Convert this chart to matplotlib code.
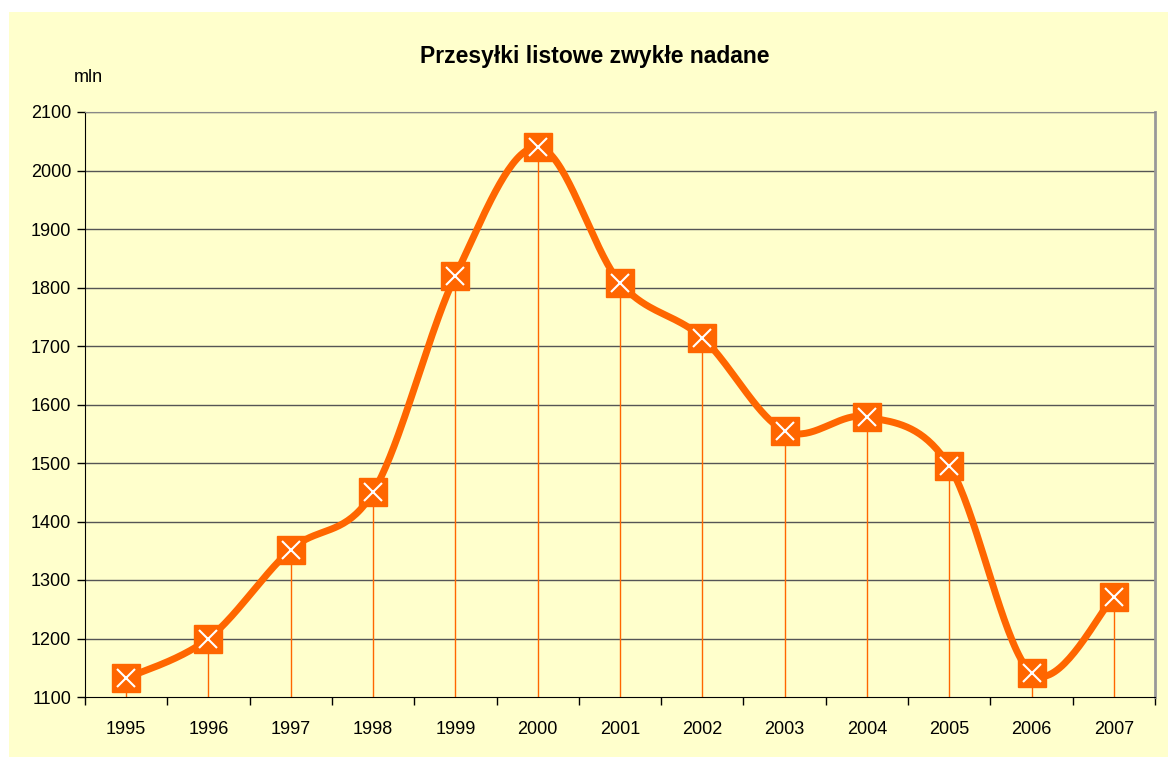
import matplotlib.pyplot as plt
import numpy as np
from matplotlib.patches import Rectangle

YEARS = ["1995", "1996", "1997", "1998", "1999", "2000", "2001",
         "2002", "2003", "2004", "2005", "2006", "2007"]
VALUES = [1132, 1200, 1352, 1450, 1820, 2040, 1808,
          1714, 1555, 1579, 1495, 1141, 1271]
Y_TICKS = list(range(1100, 2101, 100))

ORANGE = "#FF6600"
BG = "#FFFFCC"

plt.rcParams["font.family"] = ["Liberation Sans", "DejaVu Sans"]


def smooth(xs, ys, n=40):
    """Excel-like smoothed line: Catmull-Rom converted to cubic Bezier."""
    xs = np.asarray(xs, float)
    ys = np.asarray(ys, float)
    px = np.concatenate([[xs[0]], xs, [xs[-1]]])
    py = np.concatenate([[ys[0]], ys, [ys[-1]]])
    out_x, out_y = [], []
    t = np.linspace(0, 1, n)
    for i in range(1, len(px) - 2):
        p0 = np.array([px[i], py[i]])
        p3 = np.array([px[i + 1], py[i + 1]])
        c1 = p0 + (np.array([px[i + 1], py[i + 1]]) - np.array([px[i - 1], py[i - 1]])) / 6
        c2 = p3 - (np.array([px[i + 2], py[i + 2]]) - np.array([px[i], py[i]])) / 6
        b = ((1 - t) ** 3)[:, None] * p0 + (3 * (1 - t) ** 2 * t)[:, None] * c1 \
            + (3 * (1 - t) * t ** 2)[:, None] * c2 + (t ** 3)[:, None] * p3
        out_x.extend(b[:, 0])
        out_y.extend(b[:, 1])
    return out_x, out_y


fig = plt.figure(figsize=(11.68, 7.57), dpi=100)
fig.patch.set_facecolor(BG)
# white margin strips at top and left, like the pasted Excel chart
fig.add_artist(Rectangle((0, 1 - 12 / 757), 1, 12 / 757, transform=fig.transFigure,
                         facecolor="white", edgecolor="none", zorder=-10))
fig.add_artist(Rectangle((0, 0), 9 / 1168, 1, transform=fig.transFigure,
                         facecolor="white", edgecolor="none", zorder=-10))

ax = fig.add_axes([85 / 1168, 1 - 697 / 757, 1070 / 1168, 585 / 757])
ax.set_facecolor(BG)

x = np.arange(len(YEARS))
ax.set_xlim(-0.5, len(YEARS) - 0.5)
ax.set_ylim(1100, 2100)

for yv in Y_TICKS[1:]:
    ax.axhline(yv, color="#555555", lw=1.0, zorder=1)

ax.vlines(x, 1100, VALUES, color=ORANGE, lw=1.0, zorder=2)

sx, sy = smooth(x, VALUES)
ax.plot(sx, sy, color=ORANGE, lw=5, solid_capstyle="round", zorder=3)
ax.plot(x, VALUES, ls="none", marker="s", markersize=19.5,
        markerfacecolor=ORANGE, markeredgecolor=ORANGE, zorder=4)
ax.plot(x, VALUES, ls="none", marker="x", markersize=13,
        markeredgecolor="white", markeredgewidth=1.5, zorder=5)

ax.set_yticks(Y_TICKS)
ax.set_yticklabels([str(v) for v in Y_TICKS], fontsize=13)
ax.set_xticks(x)
ax.set_xticklabels(YEARS, fontsize=13)
ax.set_xticks(np.arange(-0.5, len(YEARS)), minor=True)
ax.tick_params(axis="x", which="major", length=0, pad=17)
ax.tick_params(axis="x", which="minor", length=6, width=1, color="black")
ax.tick_params(axis="y", length=6, width=1, color="black", pad=4)

ax.spines["left"].set_color("black")
ax.spines["bottom"].set_color("black")
ax.spines["right"].set_color("#999999")
ax.spines["right"].set_linewidth(2)
ax.spines["top"].set_color("#888888")

fig.text(595 / 1168, 1 - 57 / 757, "Przesyłki listowe zwykłe nadane",
         ha="center", va="center", fontsize=16.5, fontweight="bold")
fig.text(88 / 1168, 1 - 77 / 757, "mln", ha="center", va="center", fontsize=13)

fig.savefig("out.png", dpi=100, facecolor=fig.get_facecolor())
